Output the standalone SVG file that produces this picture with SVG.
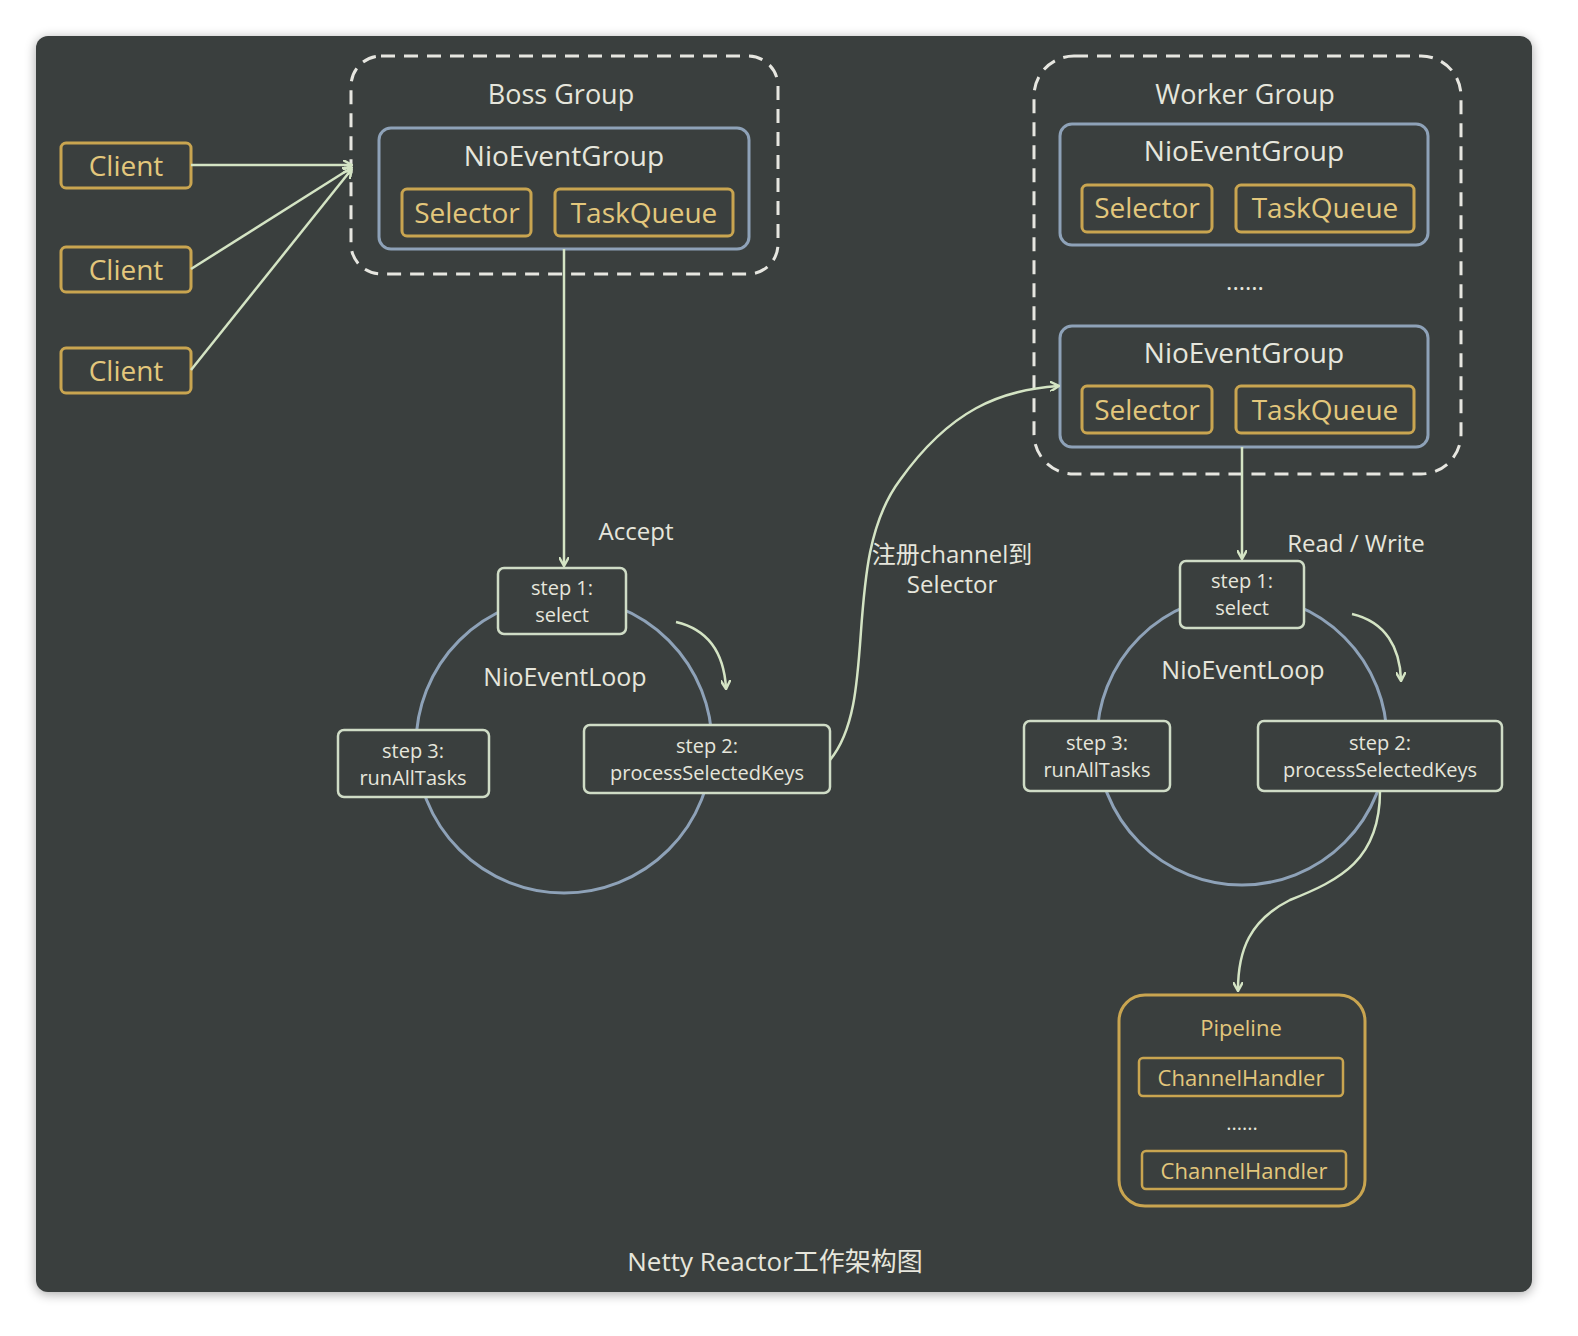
<svg xmlns="http://www.w3.org/2000/svg" width="1578" height="1336" viewBox="0 0 1578 1336">
<defs>
<marker id="ah" markerWidth="10" markerHeight="10" refX="8" refY="5" orient="auto" markerUnits="userSpaceOnUse"><path d="M0,0 L9,5 L0,10" fill="none" stroke="#d4e4c4" stroke-width="2.5"/></marker>
<filter id="sh" x="-5%" y="-5%" width="110%" height="110%"><feGaussianBlur stdDeviation="6"/></filter>
</defs>
<style>
text{font-family:"Open Sans","Liberation Sans",sans-serif;fill:#e6e6dc;text-anchor:middle}
.cn{font-family:"Open Sans","Noto Sans CJK SC",sans-serif}
.gold{fill:none;stroke:#c9a550;stroke-width:3}
.blue{fill:none;stroke:#8ea2b8;stroke-width:3}
.dash{fill:none;stroke:#e6e6e0;stroke-width:3;stroke-dasharray:14 9}
.step{fill:#3a3f3e;stroke:#cfdcc6;stroke-width:2.5}
.circ{fill:none;stroke:#8ea2b8;stroke-width:3}
.ln{fill:none;stroke:#d4e4c4;stroke-width:2.5}
.gt{fill:#e3c77c}
.s{font-size:20px}
</style>
<rect width="1578" height="1336" fill="#ffffff"/>
<rect x="36" y="38" width="1496" height="1256" rx="12" fill="#000" opacity="0.35" filter="url(#sh)"/>
<rect x="36" y="36" width="1496" height="1256" rx="12" fill="#3a3f3e"/>

<g id="clients">
<rect class="gold" x="61" y="143" width="130" height="45" rx="5"/><text x="126" y="176" font-size="28" class="gt">Client</text>
<rect class="gold" x="61" y="247" width="130" height="45" rx="5"/><text x="126" y="280" font-size="28" class="gt">Client</text>
<rect class="gold" x="61" y="348" width="130" height="45" rx="5"/><text x="126" y="381" font-size="28" class="gt">Client</text>
</g>

<g id="boss">
<rect class="dash" x="351" y="56" width="427" height="218" rx="30"/>
<text x="561" y="104" font-size="27">Boss Group</text>
<rect class="blue" x="379" y="128" width="370" height="121" rx="12"/>
<text x="564" y="166" font-size="28">NioEventGroup</text>
<rect class="gold" x="402" y="189" width="129" height="47" rx="5"/><text x="467" y="223" font-size="28" class="gt">Selector</text>
<rect class="gold" x="555" y="189" width="178" height="47" rx="5"/><text x="644" y="223" font-size="28" class="gt">TaskQueue</text>
</g>

<g id="worker">
<rect class="dash" x="1034" y="56" width="427" height="418" rx="40"/>
<text x="1245" y="104" font-size="27">Worker Group</text>
<rect class="blue" x="1060" y="124" width="368" height="121" rx="12"/>
<text x="1244" y="161" font-size="28">NioEventGroup</text>
<rect class="gold" x="1082" y="185" width="130" height="47" rx="5"/><text x="1147" y="218" font-size="28" class="gt">Selector</text>
<rect class="gold" x="1236" y="185" width="178" height="47" rx="5"/><text x="1325" y="218" font-size="28" class="gt">TaskQueue</text>
<text x="1245" y="290" font-size="24">......</text>
<rect class="blue" x="1060" y="326" width="368" height="121" rx="12"/>
<text x="1244" y="363" font-size="28">NioEventGroup</text>
<rect class="gold" x="1082" y="386" width="130" height="47" rx="5"/><text x="1147" y="420" font-size="28" class="gt">Selector</text>
<rect class="gold" x="1236" y="386" width="178" height="47" rx="5"/><text x="1325" y="420" font-size="28" class="gt">TaskQueue</text>
</g>

<g id="loop1">
<circle class="circ" cx="564" cy="745" r="148"/>
<text x="565" y="686" font-size="25">NioEventLoop</text>
<rect class="step" x="498" y="568" width="128" height="66" rx="6"/>
<text x="562" y="595" class="s">step 1:</text><text x="562" y="622" class="s">select</text>
<rect class="step" x="584" y="725" width="246" height="68" rx="6"/>
<text x="707" y="753" class="s">step 2:</text><text x="707" y="780" class="s">processSelectedKeys</text>
<rect class="step" x="338" y="730" width="151" height="67" rx="6"/>
<text x="413" y="758" class="s">step 3:</text><text x="413" y="785" class="s">runAllTasks</text>
</g>

<g id="loop2">
<circle class="circ" cx="1242" cy="740" r="145"/>
<text x="1243" y="679" font-size="25">NioEventLoop</text>
<rect class="step" x="1180" y="561" width="124" height="67" rx="6"/>
<text x="1242" y="588" class="s">step 1:</text><text x="1242" y="615" class="s">select</text>
<rect class="step" x="1258" y="721" width="244" height="70" rx="6"/>
<text x="1380" y="750" class="s">step 2:</text><text x="1380" y="777" class="s">processSelectedKeys</text>
<rect class="step" x="1024" y="721" width="146" height="70" rx="6"/>
<text x="1097" y="750" class="s">step 3:</text><text x="1097" y="777" class="s">runAllTasks</text>
</g>

<g id="pipeline">
<rect class="gold" x="1119" y="995" width="246" height="211" rx="26"/>
<text x="1241" y="1036" font-size="22" class="gt">Pipeline</text>
<rect class="gold" x="1139" y="1058" width="204" height="38" rx="4" style="stroke-width:2.5"/>
<text x="1241" y="1086" font-size="22" class="gt">ChannelHandler</text>
<text x="1242" y="1130" font-size="20">......</text>
<rect class="gold" x="1142" y="1151" width="204" height="38" rx="4" style="stroke-width:2.5"/>
<text x="1244" y="1179" font-size="22" class="gt">ChannelHandler</text>
</g>

<g id="connectors">
<line class="ln" x1="191" y1="165" x2="351" y2="165" marker-end="url(#ah)"/>
<line class="ln" x1="191" y1="269" x2="351" y2="168" marker-end="url(#ah)"/>
<line class="ln" x1="191" y1="370" x2="351" y2="170" marker-end="url(#ah)"/>
<line class="ln" x1="564" y1="249" x2="564" y2="565" marker-end="url(#ah)"/>
<line class="ln" x1="1242" y1="447" x2="1242" y2="558" marker-end="url(#ah)"/>
<path class="ln" d="M830,760 C880,700 840,560 900,480 C950,410 1000,390 1058,386" marker-end="url(#ah)"/>
<path class="ln" d="M1380,791 C1380,860 1340,880 1290,900 C1250,920 1238,950 1238,990" marker-end="url(#ah)"/>
<path class="ln" d="M676,622 C710,630 724,655 726,688" marker-end="url(#ah)"/>
<path class="ln" d="M1352,614 C1386,622 1400,648 1401,680" marker-end="url(#ah)"/>
</g>

<g id="labels">
<text x="636" y="540" font-size="24">Accept</text>
<text x="1356" y="552" font-size="24">Read / Write</text>
<text x="952" y="563" font-size="24" class="cn">注册channel到</text>
<text x="952" y="593" font-size="24">Selector</text>
<text x="775" y="1271" font-size="26" class="cn">Netty Reactor工作架构图</text>
</g>
</svg>
